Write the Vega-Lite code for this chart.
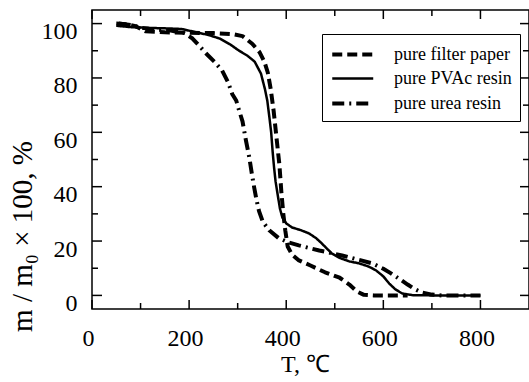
{
  "$schema": "https://vega.github.io/schema/vega-lite/v6.json",
  "width": 437,
  "height": 299,
  "autosize": {"type": "none"},
  "padding": {"left": 92, "top": 10, "right": 0, "bottom": 73},
  "background": "white",
  "config": {
    "font": "Liberation Serif",
    "view": {"stroke": "black", "strokeWidth": 1.5},
    "axis": {
      "grid": false,
      "domain": false,
      "ticks": false,
      "tickSize": 0,
      "labelColor": "black",
      "titleColor": "black",
      "labelFont": "Liberation Serif",
      "titleFont": "Liberation Serif",
      "labelFontSize": 24,
      "titleFontSize": 24,
      "titleFontWeight": "normal"
    }
  },
  "datasets": {
    "xmajor": [{"v": 0}, {"v": 200}, {"v": 400}, {"v": 600}, {"v": 800}],
    "xminor": [{"v": 100}, {"v": 300}, {"v": 500}, {"v": 700}],
    "ymajor": [{"v": 0}, {"v": 20}, {"v": 40}, {"v": 60}, {"v": 80}, {"v": 100}],
    "yminor": [{"v": 10}, {"v": 30}, {"v": 50}, {"v": 70}, {"v": 90}],
    "curves": [
      {"s": "pure filter paper", "T": 50, "m": 100},
      {"s": "pure filter paper", "T": 70, "m": 99.8},
      {"s": "pure filter paper", "T": 90, "m": 99},
      {"s": "pure filter paper", "T": 110, "m": 97.2},
      {"s": "pure filter paper", "T": 150, "m": 96.8},
      {"s": "pure filter paper", "T": 200, "m": 96.6},
      {"s": "pure filter paper", "T": 250, "m": 96.5},
      {"s": "pure filter paper", "T": 290, "m": 96.1},
      {"s": "pure filter paper", "T": 310, "m": 95.4},
      {"s": "pure filter paper", "T": 330, "m": 92.6},
      {"s": "pure filter paper", "T": 345, "m": 89.5},
      {"s": "pure filter paper", "T": 355, "m": 86},
      {"s": "pure filter paper", "T": 362, "m": 82},
      {"s": "pure filter paper", "T": 368, "m": 76},
      {"s": "pure filter paper", "T": 374, "m": 68},
      {"s": "pure filter paper", "T": 380, "m": 58},
      {"s": "pure filter paper", "T": 386, "m": 48},
      {"s": "pure filter paper", "T": 390, "m": 38},
      {"s": "pure filter paper", "T": 394, "m": 30},
      {"s": "pure filter paper", "T": 398, "m": 24},
      {"s": "pure filter paper", "T": 403, "m": 18},
      {"s": "pure filter paper", "T": 412, "m": 15},
      {"s": "pure filter paper", "T": 425, "m": 13},
      {"s": "pure filter paper", "T": 450, "m": 11},
      {"s": "pure filter paper", "T": 480, "m": 8.5},
      {"s": "pure filter paper", "T": 510, "m": 6.5},
      {"s": "pure filter paper", "T": 530, "m": 4},
      {"s": "pure filter paper", "T": 545, "m": 1.5},
      {"s": "pure filter paper", "T": 560, "m": 0.2},
      {"s": "pure filter paper", "T": 580, "m": 0},
      {"s": "pure filter paper", "T": 650, "m": 0},

      {"s": "pure PVAc resin", "T": 50, "m": 99.2},
      {"s": "pure PVAc resin", "T": 80, "m": 98.7},
      {"s": "pure PVAc resin", "T": 120, "m": 98.4},
      {"s": "pure PVAc resin", "T": 160, "m": 98.2},
      {"s": "pure PVAc resin", "T": 185, "m": 98},
      {"s": "pure PVAc resin", "T": 210, "m": 97},
      {"s": "pure PVAc resin", "T": 240, "m": 95.8},
      {"s": "pure PVAc resin", "T": 263, "m": 94.5},
      {"s": "pure PVAc resin", "T": 285, "m": 92.3},
      {"s": "pure PVAc resin", "T": 303, "m": 90},
      {"s": "pure PVAc resin", "T": 320, "m": 88.2},
      {"s": "pure PVAc resin", "T": 335, "m": 86},
      {"s": "pure PVAc resin", "T": 348, "m": 81.6},
      {"s": "pure PVAc resin", "T": 356, "m": 76},
      {"s": "pure PVAc resin", "T": 361, "m": 71.7},
      {"s": "pure PVAc resin", "T": 365, "m": 66},
      {"s": "pure PVAc resin", "T": 369, "m": 60},
      {"s": "pure PVAc resin", "T": 372, "m": 53},
      {"s": "pure PVAc resin", "T": 375, "m": 47},
      {"s": "pure PVAc resin", "T": 378, "m": 42},
      {"s": "pure PVAc resin", "T": 382, "m": 37.5},
      {"s": "pure PVAc resin", "T": 387, "m": 32},
      {"s": "pure PVAc resin", "T": 392, "m": 28.7},
      {"s": "pure PVAc resin", "T": 400, "m": 26.5},
      {"s": "pure PVAc resin", "T": 412, "m": 25},
      {"s": "pure PVAc resin", "T": 430, "m": 24},
      {"s": "pure PVAc resin", "T": 447, "m": 22.8},
      {"s": "pure PVAc resin", "T": 462, "m": 21},
      {"s": "pure PVAc resin", "T": 474, "m": 19},
      {"s": "pure PVAc resin", "T": 485, "m": 17},
      {"s": "pure PVAc resin", "T": 494, "m": 15.4},
      {"s": "pure PVAc resin", "T": 510, "m": 13.8},
      {"s": "pure PVAc resin", "T": 530, "m": 12.5},
      {"s": "pure PVAc resin", "T": 550, "m": 11.8},
      {"s": "pure PVAc resin", "T": 570, "m": 10.6},
      {"s": "pure PVAc resin", "T": 585, "m": 9.2},
      {"s": "pure PVAc resin", "T": 600, "m": 7},
      {"s": "pure PVAc resin", "T": 612, "m": 4.4},
      {"s": "pure PVAc resin", "T": 625, "m": 2.2},
      {"s": "pure PVAc resin", "T": 639, "m": 0.7},
      {"s": "pure PVAc resin", "T": 660, "m": 0.1},
      {"s": "pure PVAc resin", "T": 700, "m": 0},
      {"s": "pure PVAc resin", "T": 800, "m": 0},

      {"s": "pure urea resin", "T": 55, "m": 100},
      {"s": "pure urea resin", "T": 80, "m": 99.5},
      {"s": "pure urea resin", "T": 100, "m": 98.5},
      {"s": "pure urea resin", "T": 130, "m": 97.8},
      {"s": "pure urea resin", "T": 160, "m": 97.5},
      {"s": "pure urea resin", "T": 190, "m": 96.5},
      {"s": "pure urea resin", "T": 207, "m": 94.5},
      {"s": "pure urea resin", "T": 220, "m": 92},
      {"s": "pure urea resin", "T": 235, "m": 89},
      {"s": "pure urea resin", "T": 252, "m": 86},
      {"s": "pure urea resin", "T": 268, "m": 82.7},
      {"s": "pure urea resin", "T": 280, "m": 78.5},
      {"s": "pure urea resin", "T": 289, "m": 74},
      {"s": "pure urea resin", "T": 297, "m": 71.7},
      {"s": "pure urea resin", "T": 303, "m": 68},
      {"s": "pure urea resin", "T": 310, "m": 64},
      {"s": "pure urea resin", "T": 317, "m": 57},
      {"s": "pure urea resin", "T": 324, "m": 50.7},
      {"s": "pure urea resin", "T": 329, "m": 45},
      {"s": "pure urea resin", "T": 334, "m": 39.7},
      {"s": "pure urea resin", "T": 339, "m": 35},
      {"s": "pure urea resin", "T": 344, "m": 31},
      {"s": "pure urea resin", "T": 352, "m": 27},
      {"s": "pure urea resin", "T": 365, "m": 24},
      {"s": "pure urea resin", "T": 385, "m": 21},
      {"s": "pure urea resin", "T": 405, "m": 19.5},
      {"s": "pure urea resin", "T": 426, "m": 18.4},
      {"s": "pure urea resin", "T": 450, "m": 17.3},
      {"s": "pure urea resin", "T": 468, "m": 16.5},
      {"s": "pure urea resin", "T": 490, "m": 15.7},
      {"s": "pure urea resin", "T": 515, "m": 14.7},
      {"s": "pure urea resin", "T": 545, "m": 13.3},
      {"s": "pure urea resin", "T": 577, "m": 11.8},
      {"s": "pure urea resin", "T": 600, "m": 9.8},
      {"s": "pure urea resin", "T": 615, "m": 8.2},
      {"s": "pure urea resin", "T": 632, "m": 6.2},
      {"s": "pure urea resin", "T": 650, "m": 4},
      {"s": "pure urea resin", "T": 665, "m": 2.3},
      {"s": "pure urea resin", "T": 679, "m": 1.1},
      {"s": "pure urea resin", "T": 700, "m": 0.3},
      {"s": "pure urea resin", "T": 720, "m": 0},
      {"s": "pure urea resin", "T": 800, "m": 0}
    ]
  },
  "layer": [
    {
      "data": {"name": "curves"},
      "mark": {"type": "line", "color": "black", "strokeCap": "butt", "strokeJoin": "round"},
      "encoding": {
        "x": {
          "field": "T", "type": "quantitative",
          "scale": {"domain": [0, 900], "nice": false, "zero": false},
          "axis": {
            "orient": "bottom",
            "values": [0, 200, 400, 600, 800],
            "labelPadding": 17,
            "labelOffset": -4,
            "labelFlush": false,
            "title": "T, ℃",
            "titleX": 213,
            "titleY": 55,
            "titleAlign": "center",
            "titleBaseline": "middle"
          }
        },
        "y": {
          "field": "m", "type": "quantitative",
          "scale": {"domain": [-5, 105], "nice": false, "zero": false},
          "axis": {
            "orient": "left",
            "values": [0, 20, 40, 60, 80, 100],
            "labelPadding": 15,
            "labelOffset": 8,
            "labelFlush": false,
            "title": "m  / m₀ × 100,  %",
            "titleFontSize": 29,
            "titleX": -70,
            "titleY": 226,
            "titleAngle": -90,
            "titleAlign": "center",
            "titleBaseline": "middle"
          }
        },
        "strokeDash": {
          "field": "s", "type": "nominal",
          "scale": {"domain": ["pure filter paper", "pure PVAc resin", "pure urea resin"], "range": [[10, 5], [1, 0], [12, 5, 2, 5]]},
          "legend": {
            "title": null,
            "orient": "none",
            "legendX": 230,
            "legendY": 24,
            "padding": 8,
            "strokeColor": "black",
            "fillColor": "white",
            "symbolType": "M-1,0H3",
            "symbolSize": 420,
            "symbolStrokeColor": "black",
            "labelFont": "Liberation Serif",
            "labelFontSize": 18,
            "labelColor": "black",
            "labelOffset": 39,
            "rowPadding": 3
          }
        },
        "strokeWidth": {
          "field": "s", "type": "nominal",
          "scale": {"type": "ordinal", "domain": ["pure filter paper", "pure PVAc resin", "pure urea resin"], "range": [4, 2.5, 4]},
          "legend": {
            "title": null,
            "orient": "none",
            "legendX": 230,
            "legendY": 24,
            "padding": 8,
            "strokeColor": "black",
            "fillColor": "white",
            "symbolType": "M-1,0H3",
            "symbolSize": 420,
            "symbolStrokeColor": "black",
            "labelFont": "Liberation Serif",
            "labelFontSize": 18,
            "labelColor": "black",
            "labelOffset": 39,
            "rowPadding": 3
          }
        }
      }
    },
    {
      "data": {"name": "xmajor"},
      "mark": {"type": "tick", "orient": "vertical", "color": "black", "opacity": 1, "size": 9, "thickness": 1.5, "yOffset": -4.5},
      "encoding": {"x": {"field": "v", "type": "quantitative"}, "y": {"datum": -5}}
    },
    {
      "data": {"name": "xmajor"},
      "mark": {"type": "tick", "orient": "vertical", "color": "black", "opacity": 1, "size": 9, "thickness": 1.5, "yOffset": 4.5},
      "encoding": {"x": {"field": "v", "type": "quantitative"}, "y": {"datum": 105}}
    },
    {
      "data": {"name": "xminor"},
      "mark": {"type": "tick", "orient": "vertical", "color": "black", "opacity": 1, "size": 6, "thickness": 1.5, "yOffset": -3},
      "encoding": {"x": {"field": "v", "type": "quantitative"}, "y": {"datum": -5}}
    },
    {
      "data": {"name": "xminor"},
      "mark": {"type": "tick", "orient": "vertical", "color": "black", "opacity": 1, "size": 6, "thickness": 1.5, "yOffset": 3},
      "encoding": {"x": {"field": "v", "type": "quantitative"}, "y": {"datum": 105}}
    },
    {
      "data": {"name": "ymajor"},
      "mark": {"type": "tick", "orient": "horizontal", "color": "black", "opacity": 1, "size": 10, "thickness": 1.5, "xOffset": 5},
      "encoding": {"y": {"field": "v", "type": "quantitative"}, "x": {"datum": 0}}
    },
    {
      "data": {"name": "ymajor"},
      "mark": {"type": "tick", "orient": "horizontal", "color": "black", "opacity": 1, "size": 9, "thickness": 1.5, "xOffset": -4.5},
      "encoding": {"y": {"field": "v", "type": "quantitative"}, "x": {"datum": 900}}
    },
    {
      "data": {"name": "yminor"},
      "mark": {"type": "tick", "orient": "horizontal", "color": "black", "opacity": 1, "size": 6, "thickness": 1.5, "xOffset": 3},
      "encoding": {"y": {"field": "v", "type": "quantitative"}, "x": {"datum": 0}}
    },
    {
      "data": {"name": "yminor"},
      "mark": {"type": "tick", "orient": "horizontal", "color": "black", "opacity": 1, "size": 6, "thickness": 1.5, "xOffset": -3},
      "encoding": {"y": {"field": "v", "type": "quantitative"}, "x": {"datum": 900}}
    }
  ]
}
